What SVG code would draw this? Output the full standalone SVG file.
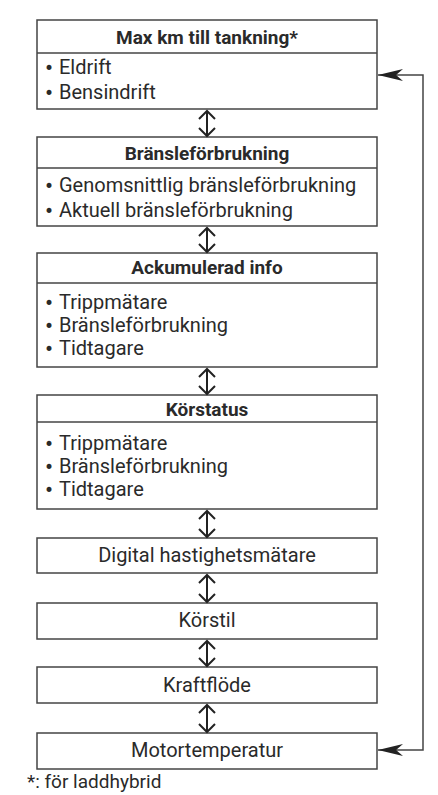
<svg xmlns="http://www.w3.org/2000/svg" width="438" height="795" viewBox="0 0 438 795">
<defs>
<style>
.box{fill:#fff;stroke:#444;stroke-width:1.5}
.div{stroke:#444;stroke-width:1.5}
.t{font-family:Roboto,"Liberation Sans",sans-serif;font-size:20px;fill:#2a2a2a}
.h{font-weight:bold;text-anchor:middle;font-size:19px}
.c{text-anchor:middle}
.b{font-family:"DejaVu Sans",sans-serif;font-size:17px}
.dbl{fill:none;stroke:#222;stroke-width:2}
.loop{fill:none;stroke:#444;stroke-width:1.5}
</style>
<marker id="ah" viewBox="0 0 26 12" refX="25" refY="6" markerWidth="26" markerHeight="12" markerUnits="userSpaceOnUse" orient="auto-start-reverse">
<path d="M25,6 L0,0 L7,6 L0,12 Z" fill="#222"/>
</marker>
</defs>
<rect width="438" height="795" fill="#fff"/>

<g id="n1">
<rect class="box" x="37" y="20" width="340" height="89"/>
<line class="div" x1="37" y1="53" x2="377" y2="53"/>
<text class="t h" x="207" y="43.5">Max km till tankning*</text>
<text class="t" x="44" y="74"><tspan class="b">•</tspan><tspan x="59">Eldrift</tspan></text>
<text class="t" x="44" y="99"><tspan class="b">•</tspan><tspan x="59">Bensindrift</tspan></text>
</g>
<g id="n2">
<rect class="box" x="37" y="137" width="340" height="89"/>
<line class="div" x1="37" y1="168" x2="377" y2="168"/>
<text class="t h" x="207" y="160">Bränsleförbrukning</text>
<text class="t" x="44" y="192"><tspan class="b">•</tspan><tspan x="59">Genomsnittlig bränsleförbrukning</tspan></text>
<text class="t" x="44" y="217"><tspan class="b">•</tspan><tspan x="59">Aktuell bränsleförbrukning</tspan></text>
</g>
<g id="n3">
<rect class="box" x="37" y="253" width="340" height="114"/>
<line class="div" x1="37" y1="283" x2="377" y2="283"/>
<text class="t h" x="207" y="273.5">Ackumulerad info</text>
<text class="t" x="44" y="309"><tspan class="b">•</tspan><tspan x="59">Trippmätare</tspan></text>
<text class="t" x="44" y="332"><tspan class="b">•</tspan><tspan x="59">Bränsleförbrukning</tspan></text>
<text class="t" x="44" y="355"><tspan class="b">•</tspan><tspan x="59">Tidtagare</tspan></text>
</g>
<g id="n4">
<rect class="box" x="37" y="395" width="340" height="114"/>
<line class="div" x1="37" y1="422" x2="377" y2="422"/>
<text class="t h" x="207" y="415.5">Körstatus</text>
<text class="t" x="44" y="450"><tspan class="b">•</tspan><tspan x="59">Trippmätare</tspan></text>
<text class="t" x="44" y="473"><tspan class="b">•</tspan><tspan x="59">Bränsleförbrukning</tspan></text>
<text class="t" x="44" y="496"><tspan class="b">•</tspan><tspan x="59">Tidtagare</tspan></text>
</g>
<g id="n5">
<rect class="box" x="37" y="538" width="340" height="35"/>
<text class="t c" x="207" y="562">Digital hastighetsmätare</text>
</g>
<g id="n6">
<rect class="box" x="37" y="603" width="340" height="36"/>
<text class="t c" x="207" y="627">Körstil</text>
</g>
<g id="n7">
<rect class="box" x="37" y="667" width="340" height="36"/>
<text class="t c" x="207" y="692">Kraftflöde</text>
</g>
<g id="n8">
<rect class="box" x="37" y="733" width="340" height="36"/>
<text class="t c" x="207" y="757">Motortemperatur</text>
</g>

<g id="connectors">
<path class="dbl" d="M207,111 V136 M199,119 L207,111 L215,119 M199,128 L207,136 L215,128"/>
<path class="dbl" d="M207,228 V252 M199,236 L207,228 L215,236 M199,244 L207,252 L215,244"/>
<path class="dbl" d="M207,369 V394 M199,377 L207,369 L215,377 M199,386 L207,394 L215,386"/>
<path class="dbl" d="M207,511 V537 M199,519 L207,511 L215,519 M199,529 L207,537 L215,529"/>
<path class="dbl" d="M207,575 V602 M199,583 L207,575 L215,583 M199,594 L207,602 L215,594"/>
<path class="dbl" d="M207,641 V666 M199,649 L207,641 L215,649 M199,658 L207,666 L215,658"/>
<path class="dbl" d="M207,705 V732 M199,713 L207,705 L215,713 M199,724 L207,732 L215,724"/>
<path class="loop" d="M378,75 H423 V750 H378" marker-start="url(#ah)" marker-end="url(#ah)"/>
</g>

<text class="t" x="27" y="788" style="font-size:19px">*: för laddhybrid</text>
</svg>
